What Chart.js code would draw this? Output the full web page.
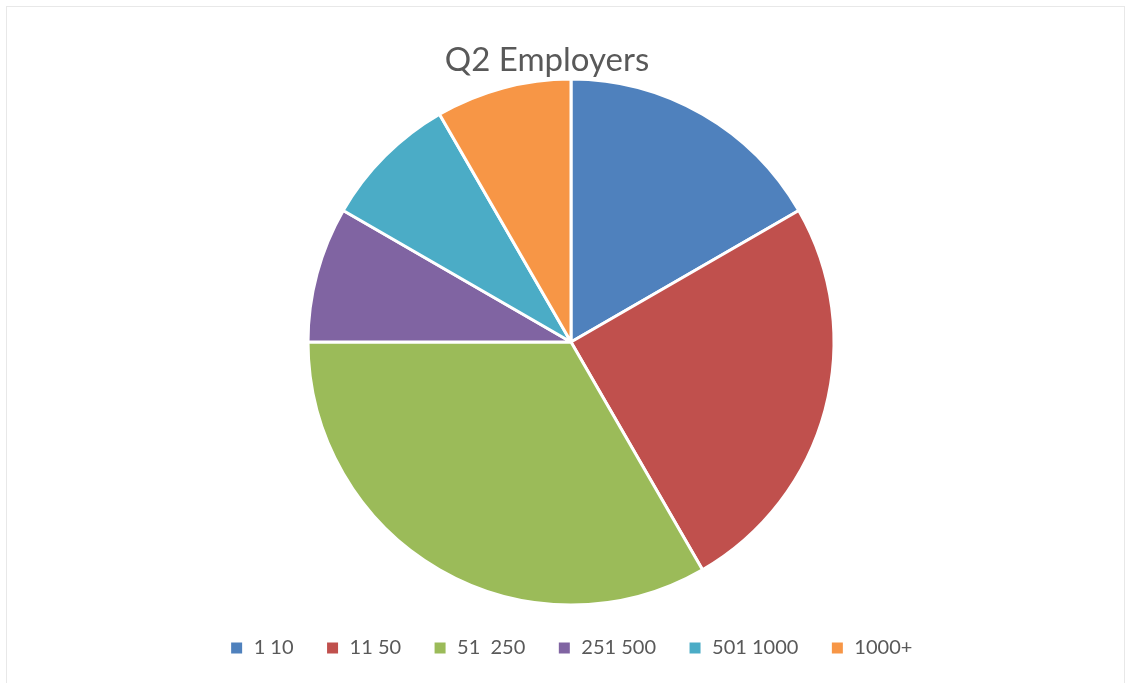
<!DOCTYPE html>
<html>
<head>
<meta charset="utf-8">
<title>Q2 Employers</title>
<script src="https://cdn.jsdelivr.net/npm/chart.js@4/dist/chart.umd.min.js"></script>
<style>
  html, body { margin: 0; padding: 0; background: #fff; }
  #frame {
    position: relative;
    width: 1127px;
    height: 683px;
    overflow: hidden;
  }
  #frame .edge {
    position: absolute;
    left: 6px; top: 6px; right: 2px; bottom: -4px;
    border: 1px solid #e8e8e8;
  }
  #title {
    position: absolute;
    left: 0; width: 1094px; top: 38px;
    text-align: center;
    font-family: Lato, 'Open Sans', sans-serif;
    font-size: 33px;
    color: #595959;
    line-height: 40px;
  }
  #chartBox { position: absolute; left: 0; top: 0; width: 1127px; height: 683px; }
</style>
</head>
<body>
<div id="frame">
  <div class="edge"></div>
  <div id="chartBox"><canvas id="employers"></canvas></div>
  <div id="title">Q2 Employers</div>
</div>
<script>
  // company-size buckets and employer counts
  var sizeLabels = ['1 10', '11 50', '51  250', '251 500', '501 1000', '1000+'];
  var employerCounts = [2, 3, 4, 1, 1, 1];
  var sliceColors = ['#4f81bd', '#c0504d', '#9bbb59', '#8064a2', '#4bacc6', '#f79646'];

  var textGrey = '#595959';

  new Chart(document.getElementById('employers'), {
    type: 'pie',
    data: {
      labels: sizeLabels,
      datasets: [{
        data: employerCounts,
        backgroundColor: sliceColors,
        borderColor: '#ffffff',
        borderWidth: 3,
        radius: 263
      }]
    },
    options: {
      responsive: true,
      maintainAspectRatio: false,
      animation: false,
      layout: { padding: { top: 78, bottom: 15, left: 15, right: 0 } },
      plugins: {
        title: { display: false },
        tooltip: { enabled: false },
        legend: {
          position: 'bottom',
          labels: {
            color: textGrey,
            // the white slice border eats 1.5px of each side of the swatch
            boxWidth: 14,
            boxHeight: 14,
            padding: 32,
            font: { family: "Lato, 'Open Sans', sans-serif", size: 20 }
          }
        }
      }
    }
  });
</script>
</body>
</html>
